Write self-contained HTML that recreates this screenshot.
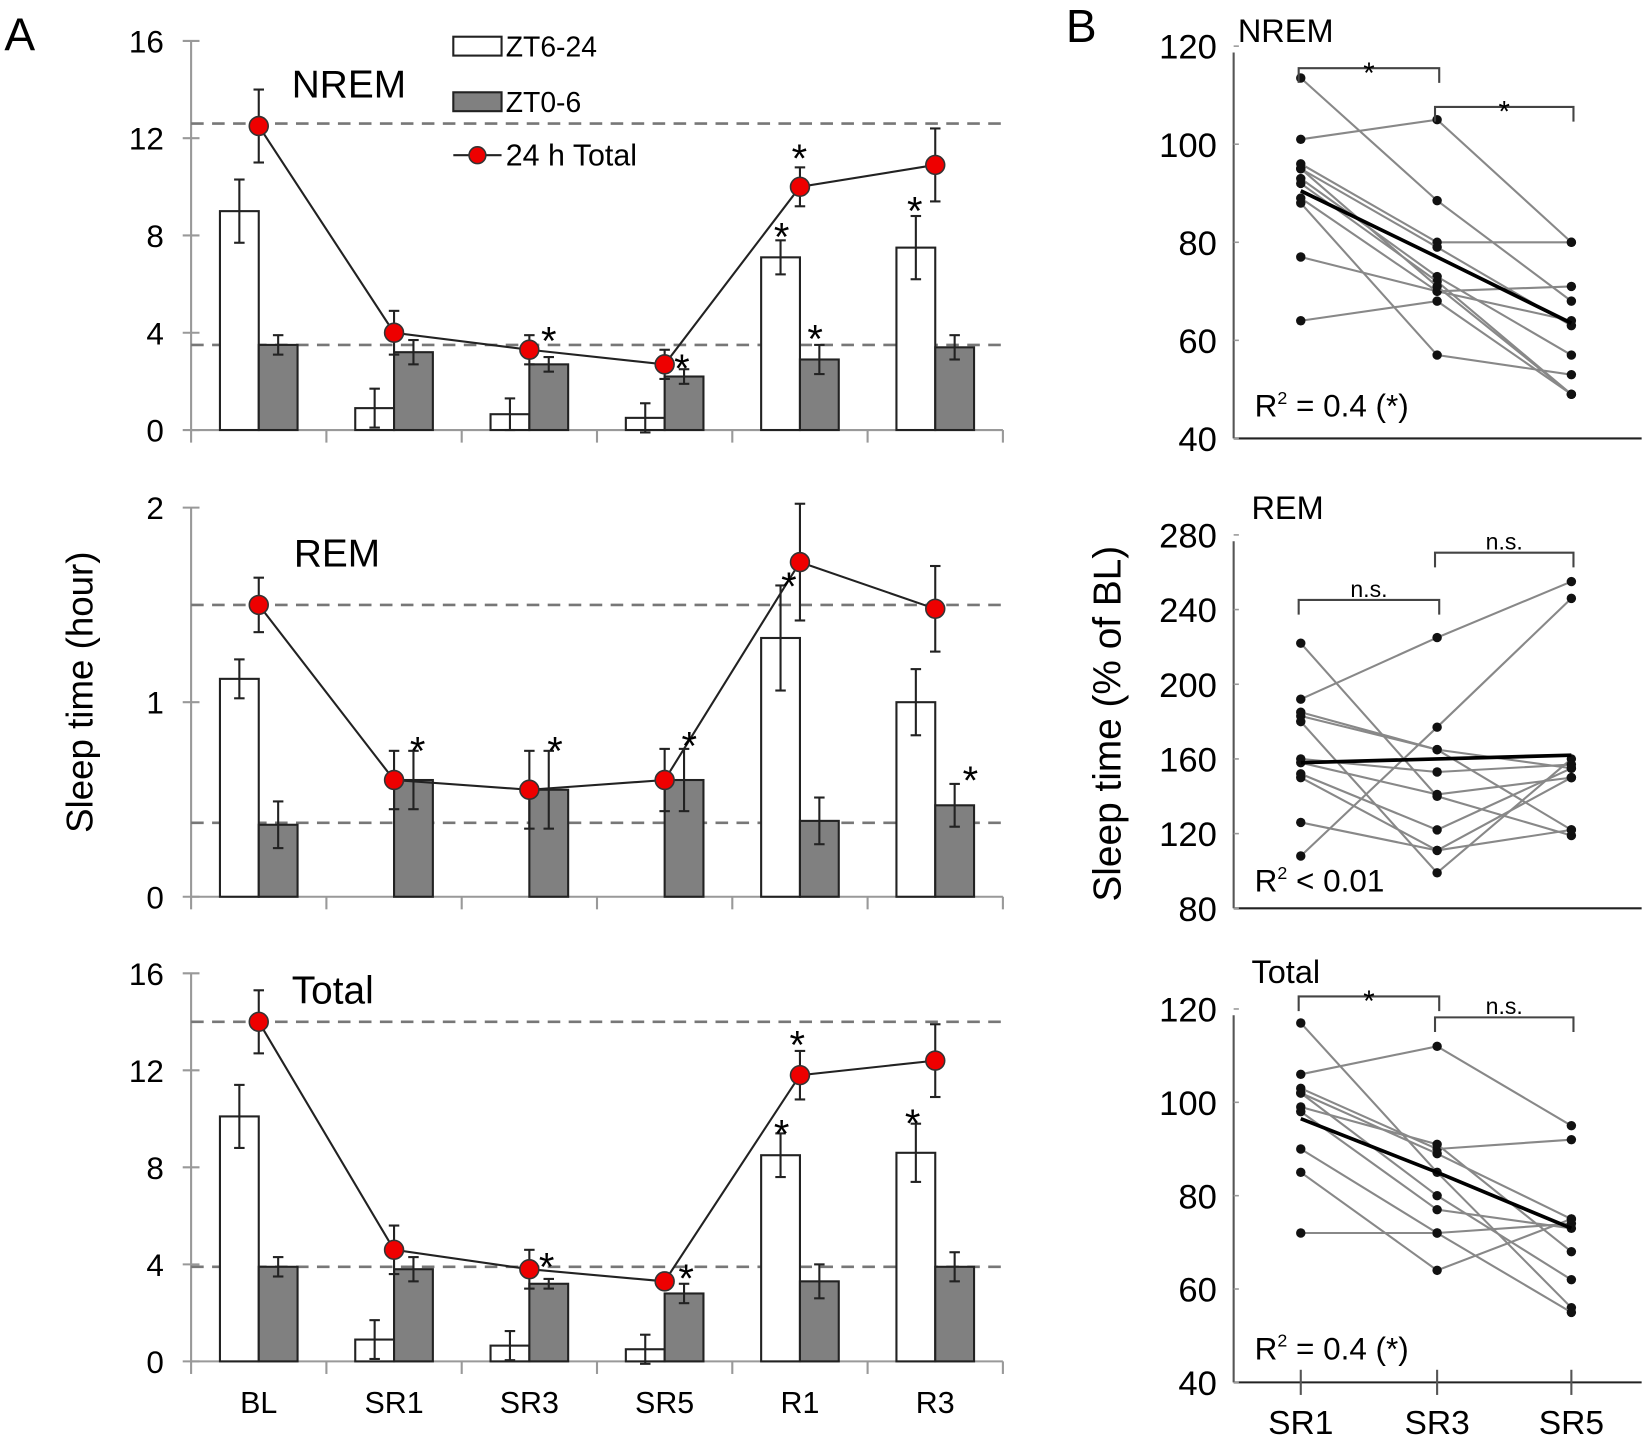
<!DOCTYPE html>
<html><head><meta charset="utf-8"><style>
html,body{margin:0;padding:0;background:#fff;}
svg{display:block;font-family:"Liberation Sans",sans-serif;}
</style></head><body>
<svg id="fig" width="1645" height="1439" viewBox="0 0 1568 1372" xmlns="http://www.w3.org/2000/svg">
<rect width="1568" height="1372" fill="#fff"/>
<text x="4" y="48" font-size="44">A</text>
<text x="1016" y="40" font-size="44">B</text>
<text transform="translate(88,660) rotate(-90)" text-anchor="middle" font-size="35">Sleep time (hour)</text>
<text transform="translate(1068,690) rotate(-90)" text-anchor="middle" font-size="37">Sleep time (% of BL)</text>
<g>
<rect x="432" y="35" width="46" height="18" fill="#fff" stroke="#222" stroke-width="2"/>
<text x="482" y="54" font-size="27">ZT6-24</text>
<rect x="432" y="88" width="46" height="18" fill="#808080" stroke="#222" stroke-width="2"/>
<text x="482" y="107" font-size="27">ZT0-6</text>
<line x1="432" y1="148" x2="478" y2="148" stroke="#222" stroke-width="2"/>
<circle cx="455" cy="148" r="8" fill="#e00" stroke="#333" stroke-width="1.5"/>
<text x="482" y="158" font-size="29">24 h Total</text>
</g>
<g id="gA"></g><g id="gB"></g>
</svg>
<script>
const cats = ["BL","SR1","SR3","SR5","R1","R3"];
const nremWhite = [9.0,0.9,0.65,0.5,7.1,7.5];
const nremWhiteErr = [1.3,0.8,0.65,0.6,0.7,1.3];
const nremGrey = [3.5,3.2,2.7,2.2,2.9,3.4];
const nremGreyErr = [0.4,0.5,0.3,0.3,0.6,0.5];
const nremTotal = [12.5,4.0,3.3,2.7,10.0,10.9];
const nremTotalErr = [1.5,0.9,0.6,0.6,0.8,1.5];
const remWhite = [1.12,0,0,0,1.33,1.0];
const remWhiteErr = [0.1,0,0,0,0.27,0.17];
const remGrey = [0.37,0.6,0.55,0.6,0.39,0.47];
const remGreyErr = [0.12,0.15,0.2,0.16,0.12,0.11];
const remTotal = [1.5,0.6,0.55,0.6,1.72,1.48];
const remTotalErr = [0.14,0.15,0.2,0.16,0.3,0.22];
const totWhite = [10.1,0.9,0.65,0.5,8.5,8.6];
const totWhiteErr = [1.3,0.8,0.6,0.6,0.9,1.2];
const totGrey = [3.9,3.8,3.2,2.8,3.3,3.9];
const totGreyErr = [0.4,0.5,0.2,0.4,0.7,0.6];
const totTotal = [14.0,4.6,3.8,3.3,11.8,12.4];
const totTotalErr = [1.3,1.0,0.8,0.2,1.0,1.5];
const nremTicks = [0,4,8,12,16];
const remTicks = [0,1,2];
const totTicks = [0,4,8,12,16];

const bCats = ["SR1","SR3","SR5"];
const bNrem = [[113.5,88.5,68],[101,105,80],[96,80,80],[95,79,63],[93,73,57],[92,72,49],[89,70,64],[88,57,53],[77,70,71],[64,68,49],[95,71,49]];
const bNremMean = [90.5,77,63.5];
const bRem = [[108,177,246],[222,140,119],[192,225,255],[183,165,122],[180,99,160],[160,153,157],[158,141,150],[152,122,155],[150,111,150],[126,111,122],[185,165,155]];
const bRemMean = [158,160,162];
const bTot = [[117,85,56],[106,112,95],[103,90,92],[102,80,62],[99,91,68],[98,77,73],[90,72,55],[85,64,75],[72,72,74],[102,89,75]];
const bTotMean = [96.5,85,73];
const bNremTicks = [40,60,80,100,120];
const bRemTicks = [80,120,160,200,240,280];
const bTotTicks = [40,60,80,100,120];

const NS="http://www.w3.org/2000/svg";
function mk(parent,tag,attrs,text){const e=document.createElementNS(NS,tag);for(const k in attrs)e.setAttribute(k,attrs[k]);if(text!==undefined)e.textContent=text;parent.appendChild(e);return e;}

function panelA(o){
  const g=mk(document.getElementById('gA'),'g',{});
  
  
  const x0=182,cw=129,y=v=>o.y0-(v-o.vmin)/(o.vmax-o.vmin)*(o.y0-o.y1);
  const cx=i=>x0+cw*(i+0.5);
  mk(g,'line',{x1:x0,y1:o.y1,x2:x0,y2:o.y0,stroke:'#999','stroke-width':2});
  mk(g,'line',{x1:x0,y1:o.y0,x2:956,y2:o.y0,stroke:'#999','stroke-width':2});
  for(let i=0;i<=cats.length;i++) mk(g,'line',{x1:x0+cw*i,y1:o.y0,x2:x0+cw*i,y2:o.y0+12,stroke:'#999','stroke-width':2});
  o.ticks.forEach(t=>{mk(g,'line',{x1:x0-8,y1:y(t),x2:x0+8,y2:y(t),stroke:'#999','stroke-width':2});
    const tl=mk(g,'text',{x:x0-26,y:y(t)+11,'text-anchor':'end','font-size':30},String(t));
    
    });
  o.dash.forEach(d=>mk(g,'line',{x1:x0,y1:y(d),x2:956,y2:y(d),stroke:'#777','stroke-width':2.5,'stroke-dasharray':'12,8'}));
  const eb=(x,v,e)=>{if(!e)return;mk(g,'line',{x1:x,y1:y(v-e),x2:x,y2:y(v+e),stroke:'#222','stroke-width':2});
    [v-e,v+e].forEach(w=>mk(g,'line',{x1:x-5,y1:y(w),x2:x+5,y2:y(w),stroke:'#222','stroke-width':2}));};
  cats.forEach((c,i)=>{
    const bw=37;
    const wb=mk(g,'rect',{x:cx(i)-bw,y:y(o.white[i]),width:bw,height:y(0)-y(o.white[i]),fill:'#fff',stroke:'#222','stroke-width':2});
    
    
    eb(cx(i)-bw/2,o.white[i],o.whiteErr[i]);
    const gb=mk(g,'rect',{x:cx(i),y:y(o.grey[i]),width:bw,height:y(0)-y(o.grey[i]),fill:'#808080',stroke:'#222','stroke-width':2});
    
    
    eb(cx(i)+bw/2,o.grey[i],o.greyErr[i]);
  });
  mk(g,'polyline',{points:o.total.map((v,i)=>cx(i)+','+y(v)).join(' '),fill:'none',stroke:'#222','stroke-width':2});
  o.total.forEach((v,i)=>{eb(cx(i),v,o.totalErr[i]);
    const p=mk(g,'circle',{cx:cx(i),cy:y(v),r:9,fill:'#e00',stroke:'#333','stroke-width':1.5});
    
    });
  o.stars.forEach(s=>mk(g,'text',{x:s[0],y:s[1]+6,'text-anchor':'middle','font-size':38},'*'));
  mk(g,'text',{x:o.tx,y:o.ty,'font-size':37},o.title);
  if(o.xlabels) cats.forEach((c,i)=>mk(g,'text',{x:cx(i),y:1347,'text-anchor':'middle','font-size':29},c));
}
panelA({name:'nrem-bar-chart',y0:410,y1:39,vmin:0,vmax:16,ticks:nremTicks,dash:[12.6,3.5],white:nremWhite,whiteErr:nremWhiteErr,grey:nremGrey,greyErr:nremGreyErr,total:nremTotal,totalErr:nremTotalErr,title:'NREM',tx:278,ty:93,
  stars:[[523,332],[650,358],[762,158],[745,233],[777,330],[872,208]]});
panelA({name:'rem-bar-chart',y0:855,y1:484,vmin:0,vmax:2,ticks:remTicks,dash:[1.5,0.38],white:remWhite,whiteErr:remWhiteErr,grey:remGrey,greyErr:remGreyErr,total:remTotal,totalErr:remTotalErr,title:'REM',tx:280,ty:540,
  stars:[[398,723],[529,723],[657,718],[752,566],[925,751]]});
panelA({name:'total-bar-chart',y0:1298,y1:928,vmin:0,vmax:16,ticks:totTicks,dash:[14,3.9],white:totWhite,whiteErr:totWhiteErr,grey:totGrey,greyErr:totGreyErr,total:totTotal,totalErr:totTotalErr,title:'Total',tx:278,ty:957,xlabels:true,
  stars:[[521,1215],[654,1226],[760,1003],[745,1088],[870,1078]]});

function panelB(o){
  const g=mk(document.getElementById('gB'),'g',{});
  
  
  const xs=[1240,1370,1498];
  const y=v=>o.y0-(v-o.vmin)/(o.vmax-o.vmin)*(o.y0-o.y1);
  mk(g,'line',{x1:1176,y1:o.y1+6,x2:1176,y2:o.y0,stroke:'#555','stroke-width':2});
  mk(g,'line',{x1:1176,y1:o.y0,x2:1565,y2:o.y0,stroke:'#222','stroke-width':2});
  xs.forEach(x=>mk(g,'line',{x1:x,y1:o.y0-o.tk,x2:x,y2:o.y0+o.tk,stroke:'#555','stroke-width':2}));
  o.ticks.forEach(t=>{mk(g,'line',{x1:1176,y1:y(t),x2:1181,y2:y(t),stroke:'#999','stroke-width':1.5});
    const tl=mk(g,'text',{x:1160,y:y(t)+12,'text-anchor':'end','font-size':33},String(t));
    
    });
  o.data.forEach((s,k)=>{const pl=mk(g,'polyline',{points:s.map((v,i)=>xs[i]+','+y(v)).join(' '),fill:'none',stroke:'#888','stroke-width':2});
    
    
    s.forEach((v,i)=>mk(g,'circle',{cx:xs[i],cy:y(v),r:4.5,fill:'#111'}));});
  const m=mk(g,'polyline',{points:o.mean.map((v,i)=>xs[i]+','+y(v)).join(' '),fill:'none',stroke:'#000','stroke-width':3.5});
  
  
  o.br.forEach(b=>{const a=xs[b[0]]-2,c=xs[b[1]]+2;
    mk(g,'polyline',{points:`${a},${b[2]+14} ${a},${b[2]} ${c},${b[2]} ${c},${b[2]+14}`,fill:'none',stroke:'#444','stroke-width':2});
    mk(g,'text',{x:(a+c)/2,y:b[2]+(b[3]=='*'?14:-3),'text-anchor':'middle','font-size':b[3]=='*'?28:22},b[3]);});
  mk(g,'text',{x:o.tx,y:o.ty,'font-size':31},o.title);
  const r=mk(g,'text',{x:1196,y:o.ry,'font-size':30},'');
  r.innerHTML='R<tspan font-size="17" dy="-12">2</tspan><tspan dy="12"> '+o.rtxt+'</tspan>';
  if(o.xlabels) bCats.forEach((c,i)=>mk(g,'text',{x:xs[i],y:1367,'text-anchor':'middle','font-size':32},c));
}
panelB({name:'nrem-line-chart',y0:418,y1:44,vmin:40,vmax:120,ticks:bNremTicks,data:bNrem,mean:bNremMean,title:'NREM',tx:1180,ty:40,ry:397,rtxt:'= 0.4 (*)',tk:0,
  br:[[0,1,65,'*'],[1,2,102,'*']]});
panelB({name:'rem-line-chart',y0:866,y1:510,vmin:80,vmax:280,ticks:bRemTicks,data:bRem,mean:bRemMean,title:'REM',tx:1193,ty:495,ry:850,rtxt:'< 0.01',tk:0,
  br:[[0,1,572,'n.s.'],[1,2,527,'n.s.']]});
panelB({name:'total-line-chart',y0:1318,y1:962,vmin:40,vmax:120,ticks:bTotTicks,data:bTot,mean:bTotMean,title:'Total',tx:1193,ty:937,ry:1296,rtxt:'= 0.4 (*)',tk:12,xlabels:true,
  br:[[0,1,950,'*'],[1,2,970,'n.s.']]});
</script>
</body></html>
